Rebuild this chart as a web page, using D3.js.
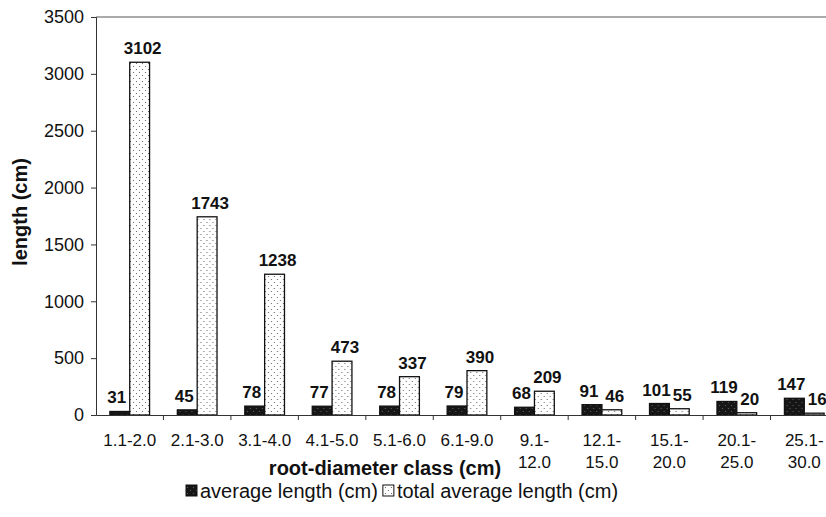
<!DOCTYPE html>
<html>
<head>
<meta charset="utf-8">
<script src="https://cdn.jsdelivr.net/npm/d3@7"></script>
<style>
  html, body { margin: 0; padding: 0; background: #fff; }
  svg { display: block; overflow: hidden; font-family: "Liberation Sans", Arial, sans-serif; }
</style>
</head>
<body>
<svg id="chart"></svg>
<script>
// data
const classes = [
  ["1.1-2.0"], ["2.1-3.0"], ["3.1-4.0"], ["4.1-5.0"], ["5.1-6.0"], ["6.1-9.0"],
  ["9.1-", "12.0"], ["12.1-", "15.0"], ["15.1-", "20.0"], ["20.1-", "25.0"], ["25.1-", "30.0"]
];
const averageLength = [31, 45, 78, 77, 78, 79, 68, 91, 101, 119, 147];
const totalAverageLength = [3102, 1743, 1238, 473, 337, 390, 209, 46, 55, 20, 16];
const yTicks = [0, 500, 1000, 1500, 2000, 2500, 3000, 3500];
const seriesNames = ["average length (cm)", "total average length (cm)"];

const W = 826, H = 517;
const margin = { top: 17, right: -12, bottom: 102, left: 96 };
const width = W - margin.left - margin.right;
const height = H - margin.top - margin.bottom;

const svg = d3.select("#chart").attr("width", W).attr("height", H);

// fill patterns
const defs = svg.append("defs");
const dots = defs.append("pattern")
    .attr("id", "dots")
    .attr("patternUnits", "userSpaceOnUse")
    .attr("width", 6).attr("height", 6);
dots.append("rect").attr("width", 6).attr("height", 6).attr("fill", "#fff");
dots.append("circle").attr("cx", 1.5).attr("cy", 1.5).attr("r", 0.6).attr("fill", "#555");
dots.append("circle").attr("cx", 4.5).attr("cy", 4.5).attr("r", 0.6).attr("fill", "#555");

const dark = defs.append("pattern")
    .attr("id", "dark")
    .attr("patternUnits", "userSpaceOnUse")
    .attr("width", 6).attr("height", 6);
dark.append("rect").attr("width", 6).attr("height", 6).attr("fill", "#161616");
dark.append("circle").attr("cx", 1.5).attr("cy", 1.5).attr("r", 0.6).attr("fill", "#6a6a6a");
dark.append("circle").attr("cx", 4.5).attr("cy", 4.5).attr("r", 0.6).attr("fill", "#6a6a6a");

const g = svg.append("g").attr("transform", `translate(${margin.left},${margin.top})`);

const x = d3.scaleBand()
    .domain(d3.range(classes.length))
    .range([0, width])
    .padding(0);

const x1 = d3.scaleBand()
    .domain([0, 1])
    .range([0, x.bandwidth()])
    .paddingOuter(0.7)
    .paddingInner(0);

const y = d3.scaleLinear().domain([0, 3500]).range([height, 0]);

// frame top line
g.append("line")
    .attr("x1", 0).attr("x2", width)
    .attr("y1", 0).attr("y2", 0)
    .attr("stroke", "#555").attr("stroke-width", 1);

const rows = classes.map((c, i) => [
  { i, s: 0, v: averageLength[i] },
  { i, s: 1, v: totalAverageLength[i] }
]);

const groups = g.selectAll("g.grp")
    .data(rows)
    .enter().append("g")
    .attr("class", "grp")
    .attr("transform", (d, i) => `translate(${x(i)},0)`);

groups.selectAll("rect")
    .data(d => d)
    .enter().append("rect")
    .attr("x", d => x1(d.s))
    .attr("y", d => y(d.v))
    .attr("width", x1.bandwidth())
    .attr("height", d => height - y(d.v))
    .attr("fill", d => d.s === 0 ? "url(#dark)" : "url(#dots)")
    .attr("stroke", "#111")
    .attr("stroke-width", 1.3);

// value labels, nudged apart a little like in the original
groups.selectAll("text")
    .data(d => d)
    .enter().append("text")
    .attr("x", d => x1(d.s) + x1.bandwidth() / 2 + (d.s === 0 ? -3 : 3))
    .attr("y", d => y(d.v) - 8)
    .attr("text-anchor", "middle")
    .attr("font-size", 17)
    .attr("font-weight", "bold")
    .attr("fill", "#111")
    .text(d => d.v);

// y axis
const yAxis = g.append("g")
    .call(d3.axisLeft(y).tickValues(yTicks).tickFormat(d3.format("d")).tickSize(5).tickPadding(7));
yAxis.select(".domain").attr("stroke", "#333");
yAxis.selectAll("line").attr("stroke", "#333");
yAxis.selectAll("text").attr("font-size", 18).attr("fill", "#111")
    .attr("font-family", "Liberation Sans, Arial, sans-serif");

// x axis
const xAxis = g.append("g")
    .attr("transform", `translate(0,${height})`)
    .call(d3.axisBottom(x).tickSize(0).tickFormat(""));
xAxis.select(".domain").attr("stroke", "#333");

g.append("g")
    .selectAll("line")
    .data(d3.range(1, classes.length))
    .enter().append("line")
    .attr("x1", i => x(i)).attr("x2", i => x(i))
    .attr("y1", height).attr("y2", height + 5)
    .attr("stroke", "#333");

const xl = g.append("g")
    .selectAll("text")
    .data(classes)
    .enter().append("text")
    .attr("x", (d, i) => x(i) + x.bandwidth() / 2)
    .attr("y", height + 31)
    .attr("text-anchor", "middle")
    .attr("font-size", 17)
    .attr("fill", "#111");
xl.selectAll("tspan")
    .data(d => d)
    .enter().append("tspan")
    .attr("x", function () { return d3.select(this.parentNode).attr("x"); })
    .attr("dy", (d, k) => k === 0 ? 0 : 22)
    .text(d => d);

// axis titles
svg.append("text")
    .attr("x", 385).attr("y", 475)
    .attr("text-anchor", "middle")
    .attr("font-size", 20)
    .attr("font-weight", "bold")
    .attr("fill", "#111")
    .text("root-diameter class (cm)");

svg.append("text")
    .attr("transform", "translate(27,212) rotate(-90)")
    .attr("text-anchor", "middle")
    .attr("font-size", 20)
    .attr("font-weight", "bold")
    .attr("fill", "#111")
    .text("length (cm)");

// legend
const legend = svg.append("g").attr("transform", "translate(186,492)");
let lx = 0;
seriesNames.forEach((name, k) => {
  legend.append("rect")
      .attr("x", lx).attr("y", -7)
      .attr("width", 11).attr("height", 11)
      .attr("fill", k === 0 ? "url(#dark)" : "url(#dots)")
      .attr("stroke", "#111").attr("stroke-width", 1);
  const t = legend.append("text")
      .attr("x", lx + 14).attr("y", 6)
      .attr("font-size", 20)
      .attr("fill", "#111")
      .text(name);
  lx += 14 + t.node().getComputedTextLength() + 5;
});
</script>
</body>
</html>
